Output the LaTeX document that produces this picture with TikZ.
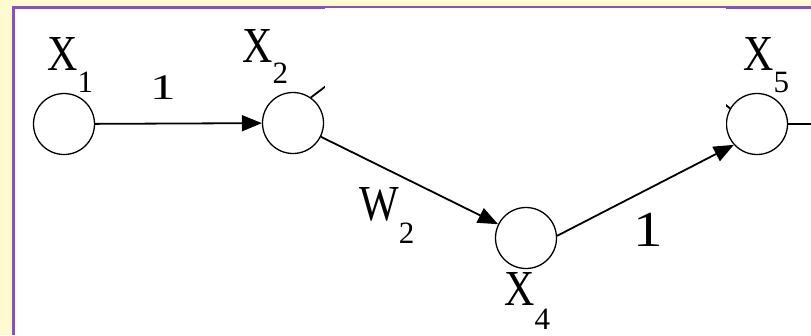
\documentclass[tikz,border=0pt]{standalone}
\usepackage{fontspec}
\setmainfont{Liberation Serif}
\usetikzlibrary{arrows.meta}
\definecolor{bgyellow}{RGB}{255,250,208}
\definecolor{frame}{RGB}{135,80,195}
\newcommand\lbX[1]{{\fontsize{42}{48}\selectfont\scalebox{1}[1.2]{#1}}}
\newcommand\lbS[2][22pt]{\raisebox{-#1}{\fontsize{31}{34}\selectfont #2}}
\begin{document}
\begin{tikzpicture}[x=1pt,y=-1pt,
  unit/.style={circle,draw=black,line width=1.3pt,minimum size=61pt,inner sep=0pt},
  conn/.style={draw=black,line width=1.8pt},
  arr/.style={conn,-{Triangle[length=20pt,width=16pt]}},
  lbl/.style={inner sep=0pt,anchor=base west}]
\useasboundingbox (0,0) rectangle (811,335);
\fill[bgyellow] (0,0) rectangle (811,335);
\fill[white] (13.5,7.5) rectangle (811,335);
\draw[frame,line width=3pt] (13.5,335) -- (13.5,7.5) -- (811,7.5);
% nodes
\node[unit] (x1) at (64,124) {};
\node[unit] (x2) at (293,123) {};
\node[unit] (x4) at (526,238) {};
\node[unit] (x5) at (757,124) {};
\coordinate (c3a) at (330,83);
\coordinate (c3b) at (722,102);
\coordinate (cout) at (811,124);
% connectors
\draw[arr] (x1) -- (x2);
\draw[arr] (x2) -- (x4);
\draw[arr] (x4.4) -- (x5.222);
\draw[conn] (x2.55) -- (c3a);
\draw[conn] (c3b) -- (x5.150);
\draw[conn] (x5.east) -- (cout);
% white patch
\fill[white] (325,8.2) rectangle (726,134);
% labels
\node[lbl] (lx1) at (47,70) {\lbX{X}\lbS{1}};
\node[lbl] (lx2) at (242,62) {\lbX{X}\lbS[21pt]{2}};
\node[lbl] (lx4) at (504,305) {\lbX{X}\lbS[24pt]{4}};
\node[lbl] (lx5) at (743,70) {\lbX{X}\lbS{5}};
\node[lbl] (lw2) at (359,220) {\lbX{W}\lbS[23pt]{2}};
\node[lbl] (l1a) at (150,99) {{\fontsize{30}{34}\selectfont\scalebox{1.7}[1.2]{1}}};
\node[lbl] (l1b) at (633,246) {{\fontsize{42}{48}\selectfont\scalebox{1.4}[1.2]{1}}};
\end{tikzpicture}
\end{document}
